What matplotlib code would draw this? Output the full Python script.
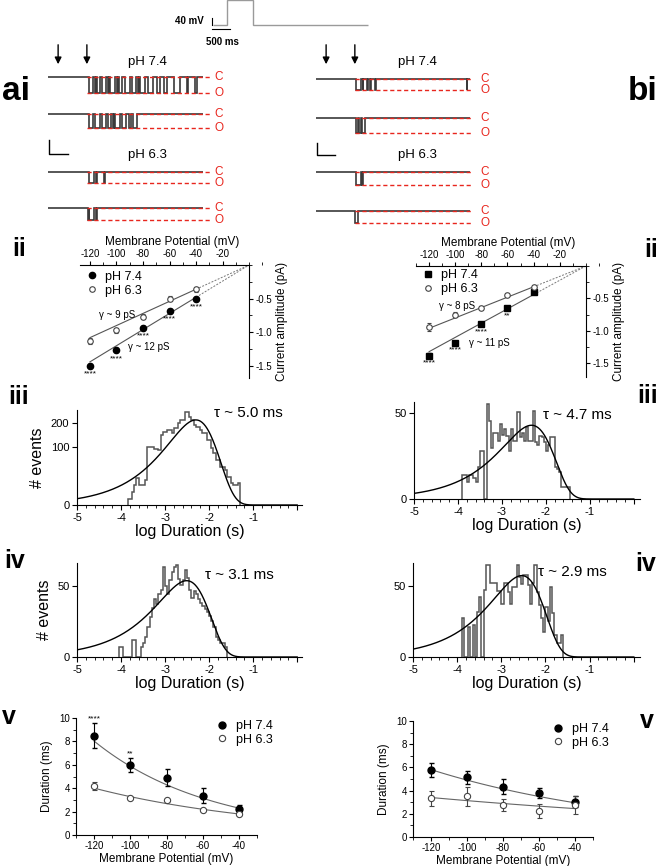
import matplotlib
matplotlib.use('Agg')
import matplotlib.pyplot as plt
import numpy as np
from matplotlib.lines import Line2D
from matplotlib.ticker import MultipleLocator

plt.rcParams['font.family'] = ['Liberation Sans', 'DejaVu Sans']
plt.rcParams['axes.unicode_minus'] = False

# ---------------- data ----------------
volts = [-120, -100, -80, -60, -40]

# ii : unitary current amplitude (pA)
amp_a74 = [-1.50, -1.27, -0.93, -0.68, -0.50]
amp_a74_err = [0.03, 0.03, 0.03, 0.03, 0.03]
amp_a63 = [-1.13, -0.97, -0.77, -0.50, -0.36]
amp_a63_err = [0.04, 0.04, 0.04, 0.04, 0.04]
amp_b74 = [-1.38, -1.18, -0.89, -0.65, -0.40]
amp_b74_err = [0.04, 0.03, 0.03, 0.03, 0.03]
amp_b63 = [-0.94, -0.75, -0.64, -0.44, -0.33]
amp_b63_err = [0.06, 0.04, 0.02, 0.02, 0.03]
gamma_a = [12, 9]   # pS, pH 7.4 / pH 6.3
gamma_b = [11, 8]
stars_a = ['****', '****', '****', '****', '****']
stars_b = ['****', '****', '****', '**', '']

# iii / iv : open time histograms (log10 s), bin width 0.05
bin_w = 0.05
hist_a74_start = -3.85
hist_a74 = [1, 1, 5, 12, 21, 12, 12, 12, 18, 101, 101, 101, 94, 94, 90, 146, 160, 160,
            167, 167, 153, 175, 175, 198, 215, 215, 259, 259, 232, 215, 190, 182, 182,
            167, 153, 153, 126, 126, 95, 79, 60, 60, 44, 44, 36, 24, 24, 14, 12, 12, 14]
hist_b74_start = -3.90
hist_b74 = [4, 4, 2, 4, 4, 3, 2, 7, 16, 16, 0, 62, 41, 18, 30, 30, 23, 38, 28, 33, 27,
            16, 33, 23, 23, 52, 26, 30, 23, 35, 23, 23, 53, 22, 20, 27, 26, 22, 16, 20,
            26, 26, 7, 6, 5, 1, 1, 1, 1]
hist_a63_start = -4.05
hist_a63 = [1, 1, 0, 0, 0, 0, 3, 3, 0, 0, 1, 2, 4, 9, 16, 24, 33, 28, 39, 45, 81, 50, 39,
            59, 72, 81, 84, 61, 52, 59, 75, 62, 45, 35, 43, 39, 33, 29, 26, 23, 20, 17,
            13, 9, 4, 3, 2, 2, 1]
hist_b63_start = -3.90
hist_b63 = [15, 0, 0, 9, 0, 10, 0, 20, 36, 0, 45, 85, 85, 55, 55, 55, 44, 44, 28, 55, 55,
            42, 28, 49, 49, 84, 64, 53, 67, 67, 51, 28, 54, 84, 42, 27, 15, 6, 25, 13, 49,
            19, 5, 2, 2, 5]
tau_ms = [5.0, 4.7, 3.1, 2.9]        # a74, b74, a63, b63
fit_peak = [215, 37, 58, 66]

# v : mean open time (ms)
dur_a74 = [8.5, 6.0, 4.9, 3.35, 2.25]
dur_a74_err = [1.05, 0.6, 0.75, 0.65, 0.3]
dur_a63 = [4.2, 3.15, 3.0, 2.15, 1.8]
dur_a63_err = [0.35, 0.1, 0.1, 0.1, 0.1]
dur_b74 = [5.8, 5.15, 4.35, 3.8, 3.05]
dur_b74_err = [0.6, 0.55, 0.65, 0.45, 0.45]
dur_b63 = [3.35, 3.5, 2.75, 2.25, 2.75]
dur_b63_err = [0.65, 0.8, 0.5, 0.6, 0.75]
# exponential fits: value at -40 mV, e-fold (mV)
fit_a = [(2.3, 64), (1.8, 100)]
fit_b = [(2.95, 118), (2.45, 243)]
stars_v = ['****', '**', '', '', '']

# traces : openings (start, end) in ms, step at 960 ms
step_ms = 960
trace_len = [3830, 3800]
traces_a = [
    [(1000, 1110), (1150, 1190), (1210, 1290), (1330, 1440), (1480, 1500), (1540, 1650),
     (1700, 1720), (1750, 1820), (1900, 2020), (2070, 2180), (2230, 2250), (2280, 2390),
     (2480, 2590), (2690, 2760), (2860, 2930), (3110, 3250), (3430, 3460), (3640, 3670)],
    [(1000, 1110), (1160, 1280), (1330, 1440), (1490, 1560), (1600, 1620), (1650, 1770),
     (1820, 1930), (1990, 2060), (2110, 2190)],
    [(1000, 1130), (1180, 1200), (1390, 1400)],
    [(980, 1000), (1010, 1140), (1180, 1210)],
]
traces_b = [
    [(1000, 1120), (1150, 1170), (1270, 1290), (1330, 1350), (1460, 1480), (3720, 3740)],
    [(980, 1040), (1070, 1100), (1130, 1200)],
    [(990, 1100), (1130, 1170)],
    [(960, 1040)],
]
trace_amp_a = [1.5, 1.5, 1.13, 1.13]
trace_amp_b = [1.38, 1.38, 0.94, 0.94]
arrow_ms = [250, 960]

# voltage protocol
proto_edges = [0, 390, 1110, 4300]
proto_levels = [0, 140, 0]

# ---------------- figure ----------------
W, H = 660, 866
fig = plt.figure(figsize=(6.6, 8.66), dpi=100)


def box(x0, y0, x1, y1):
    return fig.add_axes([x0 / W, 1 - y1 / H, (x1 - x0) / W, (y1 - y0) / H])


def px(x, y):
    return x / W, 1 - y / H


def fline(xs, ys, **kw):
    fig.add_artist(Line2D([x / W for x in xs], [1 - y / H for y in ys], **kw))


RED = '#e8261e'

# panel letters
for s, x, y, ha, fs in [('ai', 2, 91, 'left', 24), ('bi', 658, 91, 'right', 24),
                        ('ii', 12, 249, 'left', 18), ('ii', 658, 250, 'right', 18),
                        ('iii', 8, 397, 'left', 18), ('iii', 658, 396, 'right', 18),
                        ('iv', 4, 561, 'left', 18), ('iv', 656, 564, 'right', 18),
                        ('v', 2, 717, 'left', 18), ('v', 654, 721, 'right', 18)]:
    fig.text(*px(x, y), s, fontsize=fs, fontweight='bold', ha=ha, va='center')

# voltage protocol
axp = box(213, 0, 370, 27)
axp.stairs(proto_levels, proto_edges, baseline=None, color='#9a9a9a', lw=1, clip_on=False)
axp.set_xlim(0, 4360)
axp.set_ylim(-11, 140)
axp.axis('off')
fline([212, 212], [18, 25], color='k', lw=0.8)
fline([212, 230], [29, 29], color='k', lw=0.8)
fig.text(*px(204, 21), '40 mV', fontsize=7, fontweight='bold', ha='right', va='center')
fig.text(*px(222, 42), '500 ms', fontsize=7, fontweight='bold', ha='center', va='center')


# single channel traces
def draw_traces(traces, amps, rows, x0, x1, tmax, tend, label_x):
    axes = []
    for ev, amp, (yc, yo) in zip(traces, amps, rows):
        s = (yo - yc) / amp
        ax = box(x0, yc - 14, x1, yo + 14)
        edges = [0]
        vals = [0]
        for a, b in ev:
            edges += [a, b]
            vals += [-amp, 0]
        edges.append(tend)
        ax.stairs(vals, edges, baseline=None, color='#3a3a3a', lw=1.2)
        ax.hlines([0, -amp], step_ms, tmax, colors=RED, linestyles=(0, (3, 2)), lw=1)
        ax.set_xlim(0, tmax)
        ax.set_ylim(-amp - 14 / s, 14 / s)
        ax.text(label_x, 0, 'C', color=RED, fontsize=8.5, va='center',
                transform=ax.get_yaxis_transform())
        ax.text(label_x, -amp, 'O', color=RED, fontsize=8.5, va='center',
                transform=ax.get_yaxis_transform())
        ax.axis('off')
        axes.append(ax)
    for t in arrow_ms:
        axes[0].annotate('', xy=(t, 1 - 67 / H), xytext=(t, 1 - 42 / H),
                         xycoords=('data', 'figure fraction'),
                         textcoords=('data', 'figure fraction'),
                         arrowprops=dict(arrowstyle='-|>', color='k', lw=1, mutation_scale=10))


draw_traces(traces_a, trace_amp_a, [(77, 93), (114, 128), (172, 183), (208, 220)],
            48, 210, 4000, trace_len[0], 1.03)
draw_traces(traces_b, trace_amp_b, [(79, 90), (118, 133), (172, 185), (211, 223)],
            316, 473, 3880, trace_len[1], 1.05)
for x in (147, 417):
    fig.text(*px(x, 62), 'pH 7.4', fontsize=9.5, ha='center', va='center')
    fig.text(*px(x, 155), 'pH 6.3', fontsize=9.5, ha='center', va='center')
fline([49, 49, 68], [140, 154, 154], color='k', lw=1)
fline([317, 317, 335], [143, 155, 155], color='k', lw=1)


def legend_handles(m74, ms74, ms63):
    return [Line2D([], [], marker=m74, ls='none', color='k', ms=ms74),
            Line2D([], [], marker='o', ls='none', color='#444444', mfc='white', ms=ms63,
                   mew=0.8)]


# ii : I-V
def iv_panel(ax, i74, e74, i63, e63, gam, m74, stars, xlim, ylim, gpos, leg_anchor):
    v = np.array(volts)
    for g in gam:
        ax.plot([volts[0], volts[-1]], [g * volts[0] / 1000, g * volts[-1] / 1000],
                color='#555555', lw=0.8, zorder=1)
        ax.plot([volts[-1], 0], [g * volts[-1] / 1000, 0], color='#777777', lw=0.7,
                ls=(0, (2, 1.5)), zorder=1)
    ax.errorbar(v, i74, yerr=e74, fmt=m74, color='k', ms=4.5, capsize=1.5, elinewidth=0.7,
                zorder=3)
    ax.errorbar(v, i63, yerr=e63, fmt='o', color='#444444', mfc='white', ms=4, mew=0.8,
                capsize=1.5, elinewidth=0.7, zorder=3)
    for vv, ii, s in zip(volts, i74, stars):
        ax.text(vv, ii - 0.12, s, fontsize=6, ha='center', va='center')
    ax.text(gpos[1][0], gpos[1][1], '\u03b3 ~ %d pS' % gam[1], fontsize=7, ha='center', va='center')
    ax.text(gpos[0][0], gpos[0][1], '\u03b3 ~ %d pS' % gam[0], fontsize=7, ha='center', va='center')
    ax.set_xlim(*xlim)
    ax.set_ylim(*ylim)
    ax.spines['left'].set_visible(False)
    ax.spines['bottom'].set_visible(False)
    ax.spines['right'].set_position(('data', 0))
    ax.spines['top'].set_bounds(xlim[0], 0)
    ax.spines['right'].set_bounds(ylim[0], 0)
    ax.xaxis.tick_top()
    ax.yaxis.tick_right()
    ax.xaxis.set_label_position('top')
    ax.yaxis.set_label_position('right')
    ax.set_xticks([-120, -100, -80, -60, -40, -20])
    ax.xaxis.set_minor_locator(MultipleLocator(10))
    ax.set_yticks([-0.5, -1.0, -1.5])
    ax.set_yticklabels(['-0.5', '-1.0', '-1.5'])
    ax.yaxis.set_minor_locator(MultipleLocator(0.25))
    ax.tick_params(labelsize=7, length=3, width=0.8, pad=1.5)
    ax.tick_params(which='minor', length=2, width=0.6)
    ax.set_xlabel('Membrane Potential (mV)', fontsize=8.5, labelpad=3)
    ax.set_ylabel('Current amplitude (pA)', fontsize=8.5, labelpad=3)
    ax.legend(legend_handles(m74, 4.5, 4), ['pH 7.4', 'pH 6.3'], loc='upper left',
              bbox_to_anchor=leg_anchor, frameon=False, fontsize=9,
              handlelength=0.8, handletextpad=0.6, labelspacing=0.15, borderaxespad=0,
              borderpad=0)
    ax.patch.set_alpha(0)


ax = box(80, 265, 265, 378)
iv_panel(ax, amp_a74, amp_a74_err, amp_a63, amp_a63_err, gamma_a, 'o', stars_a,
         (-127.5, 12), (-1.68, 0), [(-76, -1.22), (-99.6, -0.75)], (0.04, 0.95))
ax = box(416, 266, 600, 377)
iv_panel(ax, amp_b74, amp_b74_err, amp_b63, amp_b63_err, gamma_b, 's', stars_b,
         (-130, 10.8), (-1.71, 0), [(-74, -1.18), (-98.5, -0.62)], (0.04, 0.97))


# iii / iv : histograms
def sq(y):
    return np.sqrt(np.clip(y, 0, None))


def hist_panel(ax, counts, start, tau, peak, ytop, yticks, xmax, tau_xy, ylabel):
    n = len(counts)
    edges = np.linspace(start, start + bin_w * n, n + 1)
    ax.stairs(counts, edges, baseline=0, color='#555555', lw=1.1)
    L = np.linspace(-5, 0, 400)
    t = 10 ** L / (tau / 1000)
    ax.plot(L, peak * t * np.exp(1 - t), color='k', lw=1)
    ax.set_yscale('function', functions=(sq, np.square))
    ax.set_ylim(0, ytop)
    ax.set_xlim(-5, xmax)
    ax.set_yticks(yticks)
    ax.set_yticklabels([str(v) for v in yticks])
    ax.set_xticks([-5, -4, -3, -2, -1, 0])
    ax.set_xticklabels(['-5', '-4', '-3', '-2', '-1', ''])
    ax.xaxis.set_minor_locator(MultipleLocator(0.2))
    ax.yaxis.set_minor_locator(matplotlib.ticker.NullLocator())
    ax.spines['top'].set_visible(False)
    ax.spines['right'].set_visible(False)
    ax.tick_params(labelsize=8, length=3.5, width=0.8, pad=2)
    ax.tick_params(which='minor', length=2, width=0.6)
    ax.set_xlabel('log Duration (s)', fontsize=11.5, labelpad=1)
    if ylabel:
        ax.set_ylabel('# events', fontsize=11.5, labelpad=4)
    ax.text(tau_xy[0], tau_xy[1], '\u03c4 ~ %.1f ms' % tau, fontsize=11, ha='left',
            va='center', transform=ax.transAxes)
    ax.patch.set_alpha(0)


ax = box(77, 410, 302, 505)
hist_panel(ax, hist_a74, hist_a74_start, tau_ms[0], fit_peak[0], 268, [0, 100, 200], 0.11,
           (0.61, 0.97), True)
ax = box(414, 402, 640, 499)
hist_panel(ax, hist_b74, hist_b74_start, tau_ms[1], fit_peak[1], 64, [0, 50], 0.14,
           (0.57, 0.87), False)
ax = box(77, 563, 302, 657)
hist_panel(ax, hist_a63, hist_a63_start, tau_ms[2], fit_peak[2], 88, [0, 50], 0.11,
           (0.57, 0.87), True)
ax = box(413, 563, 640, 657)
hist_panel(ax, hist_b63, hist_b63_start, tau_ms[3], fit_peak[3], 88, [0, 50], 0.14,
           (0.55, 0.90), False)


# v : mean open time vs voltage
def dur_panel(ax, d74, e74, d63, e63, fits, stars):
    V = np.linspace(volts[0], volts[-1], 60)
    for d40, k in fits:
        ax.plot(V, d40 * np.exp(-(V + 40) / k), color='#666666', lw=0.8, zorder=1)
    ax.errorbar(volts, d74, yerr=e74, fmt='o', color='k', ms=5, capsize=1.8,
                elinewidth=0.8, zorder=3)
    ax.errorbar(volts, d63, yerr=e63, fmt='o', color='#444444', mfc='white', ms=4.5,
                mew=0.8, capsize=1.8, elinewidth=0.8, zorder=3)
    for vv, dd, ee, s in zip(volts, d74, e74, stars):
        ax.text(vv, dd + ee + 0.35, s, fontsize=6, ha='center', va='center')
    ax.set_xlim(-130, -30)
    ax.set_ylim(0, 10)
    ax.set_xticks(volts)
    ax.set_xticklabels([str(v) for v in volts])
    ax.xaxis.set_minor_locator(MultipleLocator(10))
    ax.set_yticks([0, 2, 4, 6, 8, 10])
    ax.yaxis.set_minor_locator(MultipleLocator(1))
    ax.spines['top'].set_visible(False)
    ax.spines['right'].set_visible(False)
    ax.tick_params(labelsize=7, length=3, width=0.8, pad=1.5)
    ax.tick_params(which='minor', length=2, width=0.6)
    ax.set_xlabel('Membrane Potential (mV)', fontsize=8.5, labelpad=1)
    ax.set_ylabel('Duration (ms)', fontsize=8.5, labelpad=4)
    ax.legend(legend_handles('o', 5, 4.5), ['pH 7.4', 'pH 6.3'], loc='upper left',
              bbox_to_anchor=(0.78, 0.98), frameon=False, fontsize=9,
              handlelength=0.8, handletextpad=0.7, labelspacing=0.1, borderaxespad=0,
              borderpad=0)


ax = box(76, 718, 257, 835)
dur_panel(ax, dur_a74, dur_a74_err, dur_a63, dur_a63_err, fit_a, stars_v)
ax = box(413, 721, 593, 837)
dur_panel(ax, dur_b74, dur_b74_err, dur_b63, dur_b63_err, fit_b, ['', '', '', '', ''])

fig.savefig('out.png', dpi=100)
